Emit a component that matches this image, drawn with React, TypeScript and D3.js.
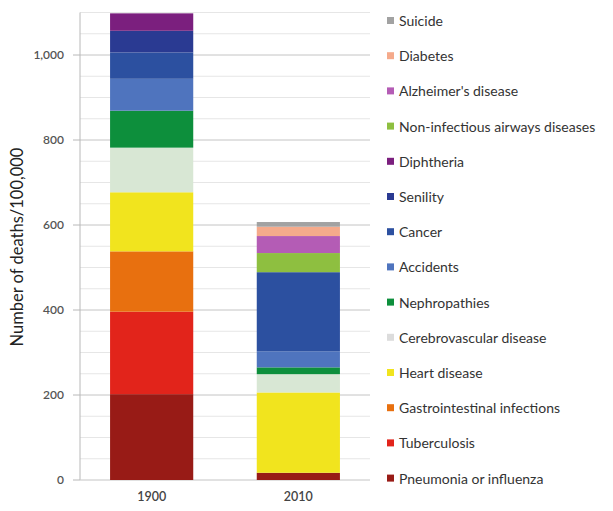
import * as d3 from "d3";

// stack order, bottom to top
const causes = [
  "Pneumonia or influenza",
  "Tuberculosis",
  "Gastrointestinal infections",
  "Heart disease",
  "Cerebrovascular disease",
  "Nephropathies",
  "Accidents",
  "Cancer",
  "Senility",
  "Diphtheria",
  "Non-infectious airways diseases",
  "Alzheimer's disease",
  "Diabetes",
  "Suicide",
];

const years = ["1900", "2010"];

const values1900 = [202, 194, 142, 139, 105, 87, 75, 62, 51, 41, 0, 0, 0, 0];
const values2010 = [17, 0, 0, 189, 43, 16, 38, 186, 0, 0, 45, 40, 22, 11];

const colors = [
  "#981b16",
  "#e2241b",
  "#e8700f",
  "#f1e41e",
  "#d8e7d4",
  "#0d8f3c",
  "#4f74be",
  "#2c50a0",
  "#2a3a92",
  "#7b1f7e",
  "#8ebf40",
  "#b45cb5",
  "#f5aa8b",
  "#a2a2a2",
];
// legend swatch for cerebrovascular reads grey rather than green
const legendColors = colors.map((c, i) => (i === 4 ? "#dcdcdc" : c));

const yTicks = [0, 200, 400, 600, 800, 1000];

const W = 613;
const H = 511;

export default function App() {
  const x = d3
    .scaleBand()
    .domain(years)
    .range([80, 370])
    .paddingInner(0.433)
    .paddingOuter(0.205);
  const y = d3.scaleLinear().domain([0, 1100]).range([480, 12.5]);

  const table = years.map((yr, j) => {
    const row: Record<string, number | string> = { year: yr };
    causes.forEach((c, i) => {
      row[c] = j === 0 ? values1900[i] : values2010[i];
    });
    return row;
  });
  const series = d3.stack<any>().keys(causes)(table);

  const gridVals = d3.range(0, 1101, 50);
  const font = "Lato, 'Open Sans', sans-serif";

  return (
    <svg
      width={W}
      height={H}
      style={{ position: "absolute", left: 0, top: 0, background: "#fff" }}
      fontFamily={font}
    >
      {gridVals.map((v) => (
        <line
          key={v}
          x1={80}
          x2={370}
          y1={y(v)}
          y2={y(v)}
          stroke={v % 200 === 0 && v > 0 ? "#c4c4c4" : "#e6e6e6"}
          strokeWidth={1}
        />
      ))}
      <line x1={80} x2={80} y1={y(1100)} y2={y(0)} stroke="#b8b8b8" />
      <line x1={80} x2={370} y1={y(0)} y2={y(0)} stroke="#d0d0d0" />
      {yTicks.map((t) => (
        <g key={t}>
          <line x1={73} x2={80} y1={y(t)} y2={y(t)} stroke="#b8b8b8" />
          <text
            x={64}
            y={y(t)}
            dy="0.35em"
            textAnchor="end"
            fontSize={12}
            fontWeight={600}
            fill="#555"
          >
            {d3.format(",")(t)}
          </text>
        </g>
      ))}
      <text
        transform={`translate(23,${247}) rotate(-90)`}
        textAnchor="middle"
        fontSize={16.5}
        fill="#222"
      >
        Number of deaths/100,000
      </text>

      {series.map((s, i) => (
        <g key={s.key} fill={colors[i]}>
          {s.map((d) => (
            <rect
              key={d.data.year as string}
              x={x(d.data.year as string)}
              y={y(d[1])}
              width={x.bandwidth()}
              height={y(d[0]) - y(d[1])}
            />
          ))}
        </g>
      ))}

      {years.map((yr) => (
        <text
          key={yr}
          x={(x(yr) ?? 0) + x.bandwidth() / 2}
          y={501}
          textAnchor="middle"
          fontSize={12.5}
          fontWeight={600}
          fill="#444"
        >
          {yr}
        </text>
      ))}

      {causes
        .map((c, i) => ({ c, i }))
        .reverse()
        .map(({ c, i }, k) => {
          const cy = 21 + k * 35.2;
          return (
            <g key={c}>
              <rect
                x={387}
                y={cy - 4}
                width={7}
                height={7}
                fill={legendColors[i]}
              />
              <text x={399} y={cy} dy="0.35em" fontSize={14} fill="#333">
                {c}
              </text>
            </g>
          );
        })}
    </svg>
  );
}
